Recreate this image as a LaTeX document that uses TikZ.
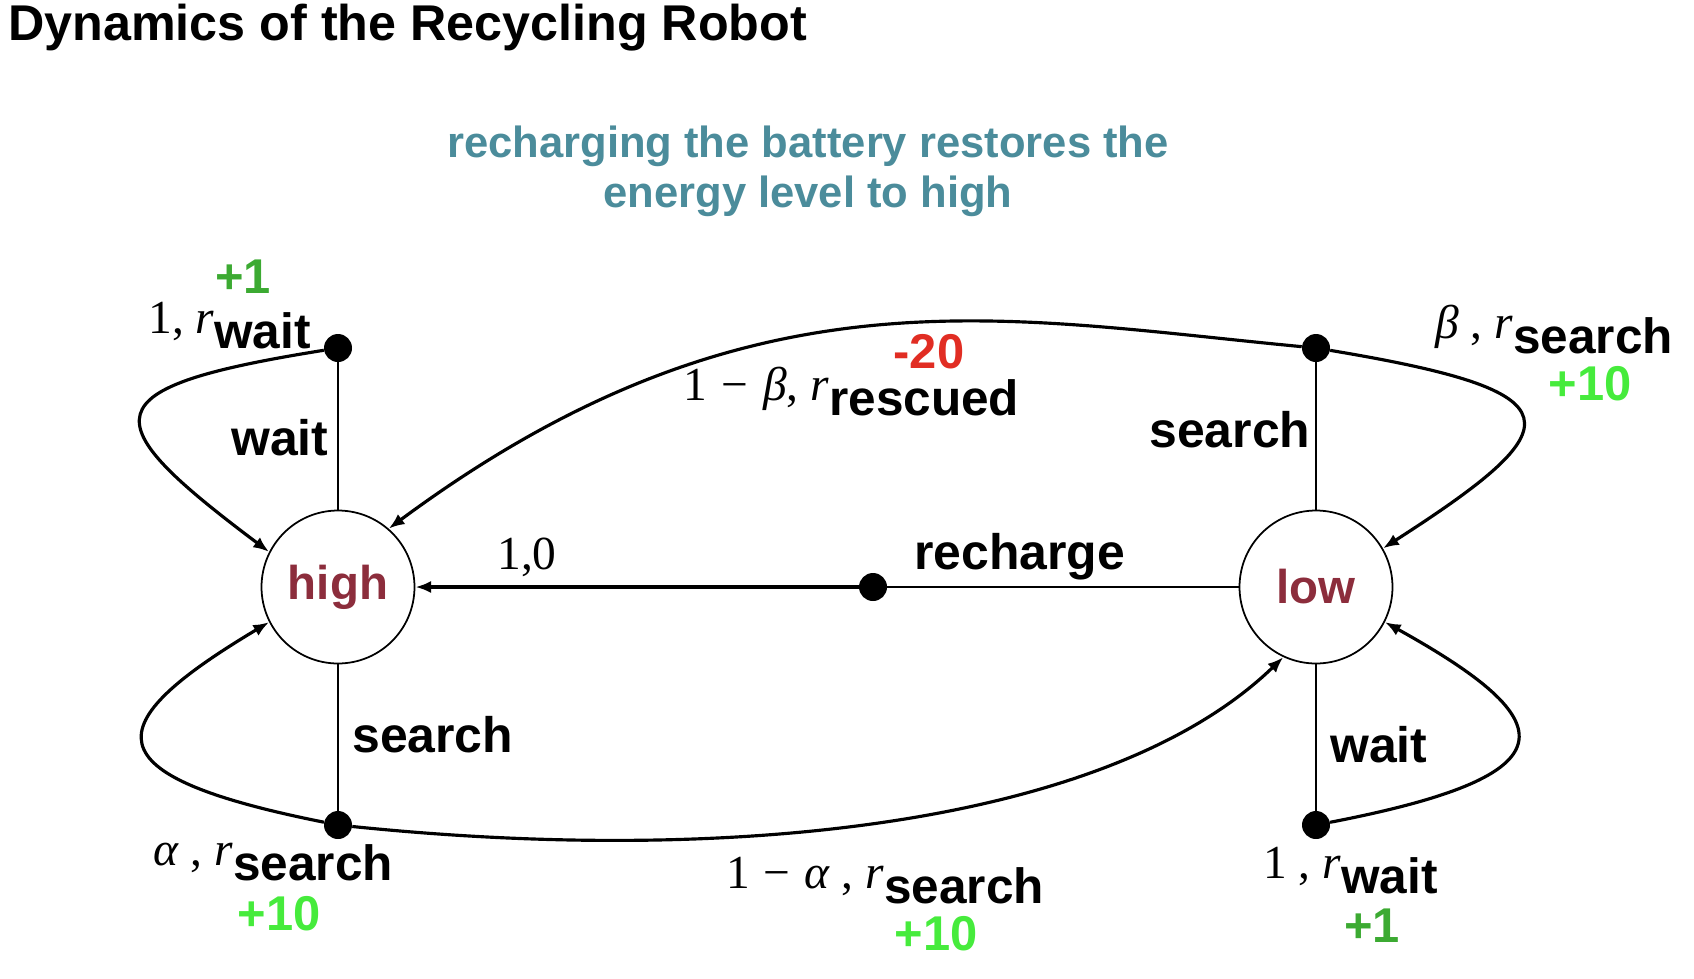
\documentclass[tikz,border=0pt]{standalone}
\usepackage{fontspec}
\setmainfont{Liberation Sans}
\newfontfamily\serif{Liberation Serif}
\usetikzlibrary{arrows.meta}
\definecolor{stateRed}{RGB}{140,45,60}
\definecolor{noteTeal}{RGB}{75,140,155}
\definecolor{rewGreen}{RGB}{60,170,50}
\definecolor{rewLime}{RGB}{70,235,60}
\definecolor{rewRed}{RGB}{225,45,35}
\newcommand{\rw}[2]{{\serif #1\textit{r}}\raisebox{-0.32em}{\fontsize{28.2}{30}\selectfont\bfseries #2}}

\begin{document}
\begin{tikzpicture}[x=0.02cm, y=-0.02cm,
  state/.style={circle, draw, line width=1pt, minimum size=3.06cm, inner sep=0,
    font=\fontsize{27}{30}\selectfont\bfseries, text=stateRed},
  dot/.style={circle, fill, inner sep=0, minimum size=0.56cm},
  act/.style={anchor=base west, inner sep=0, font=\fontsize{28.4}{30}\selectfont\bfseries},
  prob/.style={anchor=base west, inner sep=0, font=\fontsize{27}{30}\selectfont},
  rew/.style={anchor=base, inner sep=0, font=\fontsize{27.8}{30}\selectfont\bfseries},
  trans/.style={line width=1.8pt, -{Latex[length=9pt,width=7pt]}},
  stem/.style={line width=1.3pt}]
  \useasboundingbox (0,0) rectangle (1694,978);

  \node[anchor=base west, inner sep=0, font=\fontsize{28.6}{34}\selectfont\bfseries]
    (title) at (8,40) {Dynamics of the Recycling Robot};

  \node[align=center, text=noteTeal, font=\fontsize{24.8}{28.3}\selectfont\bfseries]
    (note) at (808,171) {recharging the battery restores the\\energy level to high};

  \node[state] (high) at (338,587) {high};
  \node[state] (low) at (1316,587) {low};

  \node[dot] (hw) at (338,348) {};
  \node[dot] (hs) at (338,825) {};
  \node[dot] (ls) at (1316,348) {};
  \node[dot] (lw) at (1316,825) {};
  \node[dot] (rc) at (873,587) {};

  \draw[stem]
    (high) -- (hw)
    (high) -- (hs)
    (low)  -- (ls)
    (low)  -- (lw)
    (low)  -- (rc);

  \draw[trans] (rc) -- (high);

  \draw[trans] (hw) .. controls (88,388) and (92,419) .. (high.153);
  \draw[trans] (hs) .. controls (88,775) and (97,725) .. (high.207);
  \draw[trans] (ls) .. controls (1580,392) and (1575,425) .. (low.30);
  \draw[trans] (lw) .. controls (1575,775) and (1565,722) .. (low.333);
  \draw[trans] (ls) .. controls (1000,318) and (749,262) .. (high.49);
  \draw[trans] (hs) .. controls (736,866) and (1111,824) .. (low.245);

  % high, wait
  \node[rew, text=rewGreen] (rhw) at (243,293) {+1};
  \node[prob] (phw) at (148,333) {\rw{1, }{wait}};
  \node[act] (ahw) at (231,455) {wait};

  % high, search
  \node[act] (ahs) at (352,752) {search};
  \node[prob] (phs) at (153,865) {\rw{\textit{α} , }{search}};
  \node[rew, text=rewLime] (rhs) at (279,930) {+10};
  \node[prob] (pha) at (726,888) {\rw{1\hspace{0.04em} − \hspace{0.04em}\textit{α} , }{search}};
  \node[rew, text=rewLime] (rha) at (936,950) {+10};

  % low, search
  \node[rew, text=rewRed] (rls) at (929,368) {-20};
  \node[prob] (pls) at (683,400) {\rw{1\hspace{0.06em} − \hspace{0.06em}\textit{β}, }{rescued}};
  \node[act] (als) at (1149,447) {search};
  \node[prob] (plb) at (1435,338) {\rw{\textit{β} , }{search}};
  \node[rew, text=rewLime] (rlb) at (1590,400) {+10};

  % low, wait
  \node[act] (alw) at (1330,762) {wait};
  \node[prob] (plw) at (1263,878) {\rw{1 , }{wait}};
  \node[rew, text=rewGreen] (rlw) at (1372,942) {+1};

  % recharge
  \node[prob, font=\fontsize{27}{30}\selectfont\serif] (prc) at (497,569) {1,0};
  \node[act] (arc) at (914,569) {recharge};
\end{tikzpicture}
\end{document}
